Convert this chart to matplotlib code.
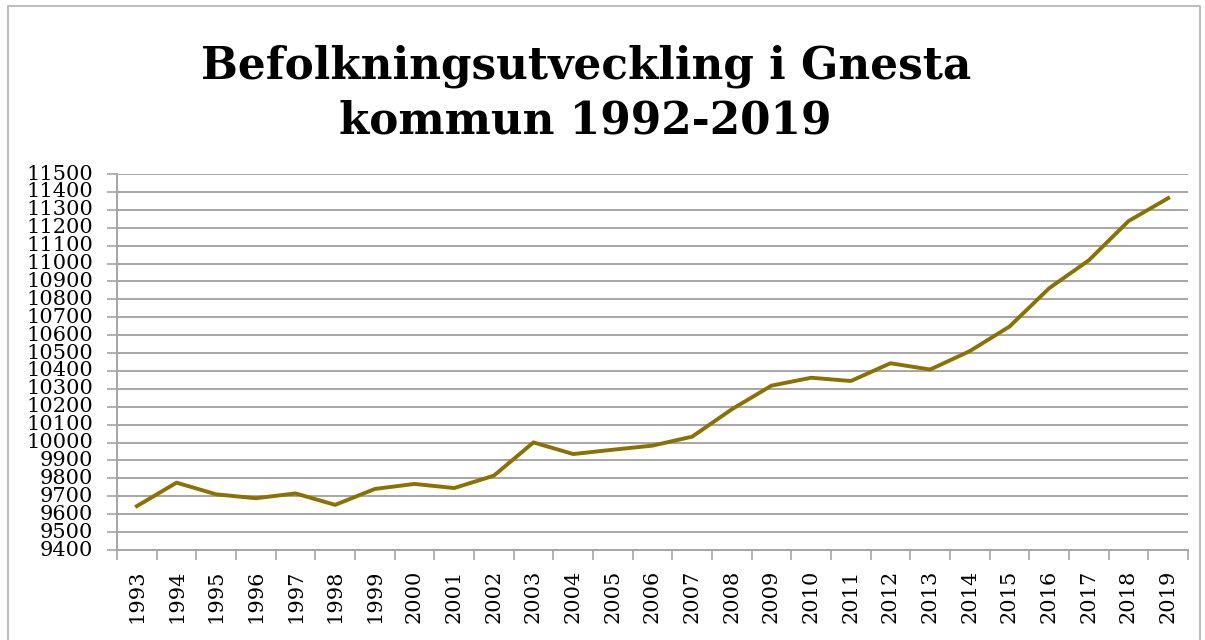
import numpy as np
import matplotlib.pyplot as plt
from matplotlib.patches import Rectangle

# Befolkning per år
years = list(range(1993, 2020))
population = [9645, 9776, 9711, 9689, 9716, 9652, 9741, 9769, 9746, 9815,
              10001, 9936, 9960, 9983, 10033, 10186, 10318, 10362, 10344, 10443,
              10408, 10511, 10648, 10862, 11018, 11237, 11365]
y_ticks = list(range(9400, 11600, 100))

LINE_COLOR = "#8a7200"
GRID_COLOR = "#a6a6a6"

plt.rcParams["font.family"] = ["DejaVu Serif"]

fig = plt.figure(figsize=(12.05, 6.4), dpi=100)
ax = fig.add_axes([117 / 1205, 1 - 550 / 640, (1188 - 117) / 1205, (550 - 174) / 640])

x = np.arange(len(years))
ax.plot(x, population, color=LINE_COLOR, linewidth=2.8, zorder=3)

ax.set_xlim(-0.5, len(years) - 0.5)
ax.set_ylim(9400, 11500)
ax.set_yticks(y_ticks)
ax.set_yticklabels([str(v) for v in y_ticks], fontsize=15)
ax.set_xticks(x)
ax.set_xticklabels([str(y) for y in years], rotation=90, fontsize=15)
ax.set_xticks(np.arange(-0.5, len(years)), minor=True)
ax.tick_params(axis="x", which="major", length=0, pad=14)
ax.tick_params(axis="x", which="minor", length=7, color=GRID_COLOR, width=1.2)
ax.tick_params(axis="y", length=7, color=GRID_COLOR, width=1.2, pad=10)
for lbl in ax.get_yticklabels():
    lbl.set_verticalalignment("center")

ax.yaxis.grid(True, color=GRID_COLOR, linewidth=1.4)
ax.set_axisbelow(True)
for side in ("top", "right"):
    ax.spines[side].set_visible(False)
for side in ("left", "bottom"):
    ax.spines[side].set_color(GRID_COLOR)
    ax.spines[side].set_linewidth(1.4)

fig.text(0.486, 0.93, "Befolkningsutveckling i Gnesta\nkommun 1992-2019",
         ha="center", va="top", fontsize=31.5, fontweight="bold", linespacing=1.32)

# ram runt diagrammet
fig.add_artist(Rectangle((8 / 1205, -0.01), (1200 - 8) / 1205, 1.0,
                         transform=fig.transFigure, fill=False,
                         edgecolor="#b0b0b0", linewidth=1.2))

fig.savefig("out.png", dpi=100)
